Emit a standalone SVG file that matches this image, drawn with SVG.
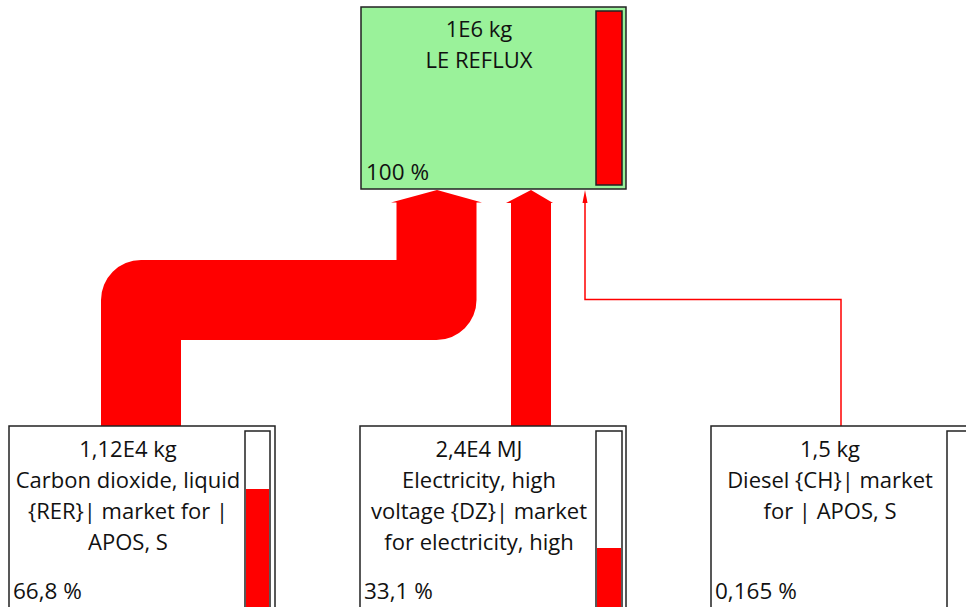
<svg xmlns="http://www.w3.org/2000/svg" width="966" height="607" viewBox="0 0 966 607">
<defs>
<style>
.box{fill:#fff;stroke:#222;stroke-width:1.5}
.main{fill:#9af29a;stroke:#222;stroke-width:1.5}
.bar{fill:#fff;stroke:#222;stroke-width:1.5}
.fill{fill:#ff0000}
text{font-family:"Open Sans","Noto Sans","Liberation Sans",sans-serif;font-size:22px;fill:#111}
.c{text-anchor:middle}
.p{font-size:22.5px}
.flow{fill:none;stroke:#ff0000}
.head{fill:#ff0000}
</style>
</defs>
<g id="connectors">
<path class="flow" d="M141 426 V300 H436.5 V201" stroke-width="80" stroke-linejoin="round"/>
<polygon class="head" points="391,202.5 437,190 482,202.5"/>
<rect class="fill" x="511" y="202" width="40" height="224"/>
<polygon class="head" points="506,203 531,190 553,203"/>
<path class="flow" d="M841 426 V299.5 H585 V200" stroke-width="1.5"/>
<polygon class="head" points="582.5,203 585,190 587.5,203"/>
</g>
<g id="node-le-reflux">
<rect class="main" x="361" y="7" width="265" height="182"/>
<rect class="fill" x="596" y="11" width="26" height="174" stroke="#222" stroke-width="1.5"/>
<text class="c" x="479" y="37">1E6 kg</text>
<text class="c" x="479" y="68">LE REFLUX</text>
<text class="p" x="366" y="180">100 %</text>
</g>
<g id="node-co2">
<rect class="box" x="9" y="426" width="266" height="190"/>
<rect class="bar" x="245" y="431" width="25" height="180"/>
<rect class="fill" x="246" y="489" width="23" height="122"/>
<text class="c" x="128" y="457">1,12E4 kg</text>
<text class="c" x="128" y="488">Carbon dioxide, liquid</text>
<text class="c" x="128" y="519">{RER}| market for |</text>
<text class="c" x="128" y="550">APOS, S</text>
<text class="p" x="13" y="599">66,8 %</text>
</g>
<g id="node-electricity">
<rect class="box" x="360" y="426" width="266" height="190"/>
<rect class="bar" x="596" y="431" width="26" height="180"/>
<rect class="fill" x="597" y="548" width="24" height="63"/>
<text class="c" x="479" y="457">2,4E4 MJ</text>
<text class="c" x="479" y="488">Electricity, high</text>
<text class="c" x="479" y="519">voltage {DZ}| market</text>
<text class="c" x="479" y="550">for electricity, high</text>
<text class="p" x="364" y="599">33,1 %</text>
</g>
<g id="node-diesel">
<rect class="box" x="711" y="426" width="266" height="190"/>
<rect class="bar" x="947" y="431" width="26" height="180"/>
<text class="c" x="830" y="457">1,5 kg</text>
<text class="c" x="830" y="488">Diesel {CH}| market</text>
<text class="c" x="830" y="519">for | APOS, S</text>
<text class="p" x="715" y="599">0,165 %</text>
</g>
</svg>
